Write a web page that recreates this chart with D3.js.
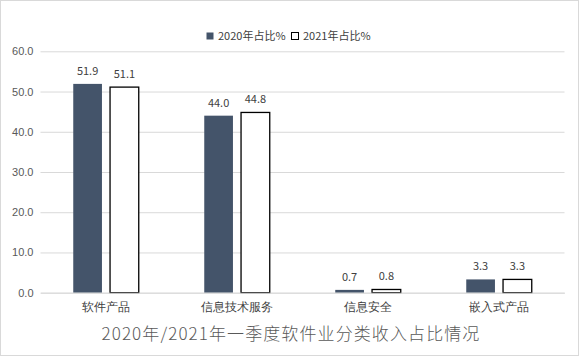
<!DOCTYPE html>
<html><head><meta charset="utf-8">
<script src="https://cdn.jsdelivr.net/npm/d3@7"></script>
<style>body{margin:0;background:#fff;}svg{display:block;font-family:"Noto Sans CJK SC","Noto Sans",sans-serif;}</style>
</head><body><svg id="c" width="579" height="356"></svg>
<script>
const categories = ["软件产品","信息技术服务","信息安全","嵌入式产品"];
const seriesNames = ["2020年占比%","2021年占比%"];
const values2020 = [51.9, 44.0, 0.7, 3.3];
const values2021 = [51.1, 44.8, 0.8, 3.3];
const yTicks = [0,10,20,30,40,50,60];
const title = "2020年/2021年一季度软件业分类收入占比情况";

const svg = d3.select("#c");
svg.append("rect").attr("x",0.5).attr("y",0.5).attr("width",578).attr("height",355)
  .attr("fill","#fff").attr("stroke","#d9d9d9");

const x0 = d3.scaleBand().domain(categories).range([40.5,564.5]).paddingInner(0.5).paddingOuter(0.25);
const x1 = d3.scaleBand().domain(seriesNames).range([0,x0.bandwidth()]).paddingInner(0.22);
const y = d3.scaleLinear().domain([0,60]).range([292.7,51.3]);

// grid
const yAxis = d3.axisLeft(y).tickValues(yTicks).tickFormat(d3.format(".1f")).tickSize(-(564.5-40.5)).tickPadding(7);
const ga = svg.append("g").attr("transform","translate(40.5,0)").call(yAxis);
ga.select(".domain").remove();
ga.selectAll(".tick line").attr("stroke","#d9d9d9").attr("stroke-width",1);
ga.selectAll(".tick text").attr("fill","#595959").attr("font-size",11);

const colors = ["#44546A","#ffffff"];
const data = categories.map((c,i)=>({c, v:[values2020[i], values2021[i]]}));
const g = svg.append("g");
data.forEach(d=>{
  d.v.forEach((v,j)=>{
    const bx = x0(d.c)+x1(seriesNames[j]);
    g.append("rect").attr("x",bx).attr("y",y(v)).attr("width",x1.bandwidth())
      .attr("height",y(0)-y(v)).attr("fill",colors[j])
      .attr("stroke", j===1?"#000":"none").attr("stroke-width",1.3);
    g.append("text").attr("x",bx+x1.bandwidth()/2).attr("y",y(v)-9)
      .attr("text-anchor","middle").attr("font-size",11).attr("fill","#404040")
      .text(v.toFixed(1));
  });
});

// x axis
const xa = d3.axisBottom(x0).tickSize(0).tickPadding(10);
const gx = svg.append("g").attr("transform",`translate(0,${y(0)})`).call(xa);
gx.select(".domain").attr("stroke","#d9d9d9");
gx.selectAll(".tick text").attr("fill","#404040").attr("font-size",12);

// legend
const leg = svg.append("g");
const lx = [206, 291];
seriesNames.forEach((s,j)=>{
  leg.append("rect").attr("x",lx[j]+0.5).attr("y",32.5).attr("width",7).attr("height",7)
    .attr("fill",colors[j]).attr("stroke", j===1?"#000":"none").attr("stroke-width",1);
  leg.append("text").attr("x",lx[j]+12).attr("y",40).attr("font-size",11).attr("fill","#404040").text(s);
});

svg.append("text").attr("x",291).attr("y",340).attr("text-anchor","middle")
  .attr("font-size",17).attr("font-weight",300).attr("letter-spacing",1.1).attr("fill","#595959").text(title);
</script></body></html>
